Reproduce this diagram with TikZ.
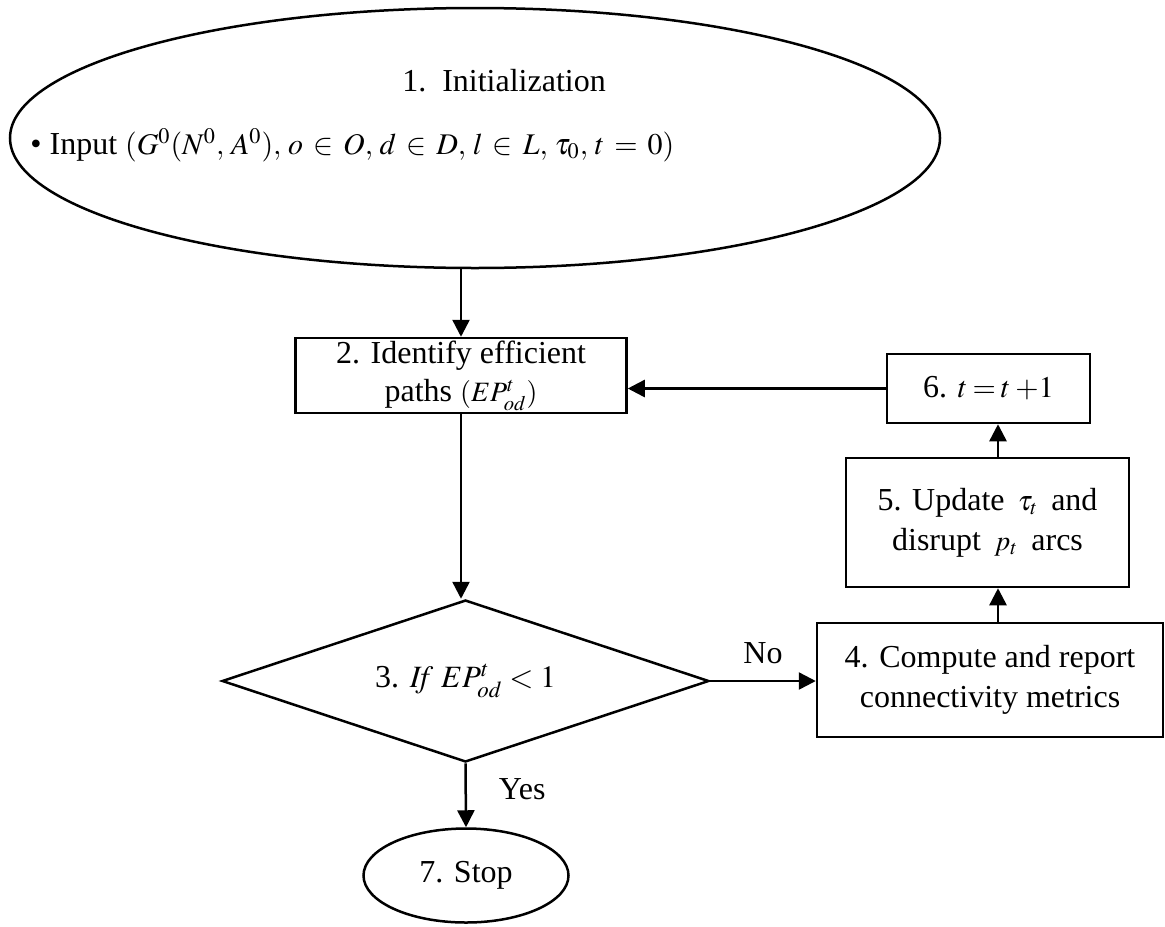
\documentclass[tikz,border=0pt]{standalone}
\usepackage{mathptmx}
\usepackage{fontspec}
\setmainfont{Liberation Serif}
\usetikzlibrary{shapes.geometric,arrows.meta,positioning}

\newcommand{\flowfont}{\fontsize{16}{20}\selectfont}
\newcommand{\eqfont}{\fontsize{14}{16}\selectfont}

\tikzset{
  flow/.style={line width=1.25pt, -{Triangle[length=8.5pt,width=8.5pt]}},
  stepbox/.style={draw, line width=1.25pt, rectangle, inner sep=0pt, align=center, font=\flowfont},
  term/.style={draw, line width=1.25pt, ellipse, inner sep=0pt, font=\flowfont},
  decide/.style={draw, line width=1.25pt, diamond, aspect=3, inner sep=0pt, font=\flowfont},
  lbl/.style={font=\flowfont, inner sep=0pt}
}

\begin{document}
\begin{tikzpicture}[x=0.5pt, y=-0.5pt]
  \useasboundingbox (0,0) rectangle (1165,926);

  %Define nodes
  \node[term, minimum width=465pt, minimum height=130pt] (init) at (475,138) {};
  \node[lbl] (inittitle) at (504,81) {1.\ \ Initialization};
  \node[lbl, anchor=west] (initinput) at (30,145)
    {• Input {\fontsize{15}{17}\selectfont\thickmuskip=6mu\thinmuskip=4mu$(G^{0}(N^{0},A^{0}),o\in O,d\in D,l\in L,\tau_{0},t=0)$}};

  \node[stepbox, minimum width=165.5pt, minimum height=37.5pt] (paths) at (461,375.5)
    {2. Identify efficient\\[-1pt]paths {\eqfont$(EP_{od}^{t})$}};

  \node[decide, minimum width=243.5pt, minimum height=81pt] (check) at (465.5,681)
    {3. {\fontsize{15.5}{18}\selectfont$\mathit{If}\ EP_{od}^{t}<1$}};

  \node[stepbox, minimum width=173pt, minimum height=57pt] (metrics) at (990,680)
    {4. Compute and report\\connectivity metrics};

  \node[stepbox, minimum width=141.5pt, minimum height=64.5pt] (update) at (987.5,522.5)
    {5. Update\ \,{\eqfont$\tau_{t}$}\ \,and\\disrupt\ \,{\eqfont$p_{t}$}\ \,arcs};

  \node[stepbox, minimum width=101.5pt, minimum height=34.5pt] (next) at (988.5,388.5)
    {6. {\fontsize{15}{18}\selectfont$t\mkern3mu{=}\mkern3mu t\mkern3mu{+}1$}};

  \node[term, minimum width=102.5pt, minimum height=47pt] (stop) at (466,875.5) {7. Stop};

  \coordinate (upline) at (998,0);

  % Connect the nodes
  \draw[flow] (init.south -| paths.north) -- (paths.north);
  \draw[flow] (paths.south) -- (paths.south |- check.north);
  \draw[flow] (check.east) -- node[lbl, above=8pt]{No} (check.east -| metrics.west);
  \draw[flow] (metrics.north -| upline) -- (update.south -| upline);
  \draw[flow] (update.north -| upline) -- (next.south -| upline);
  \draw[flow] (next.west) -- (next.west -| paths.east);
  \draw[flow] (check.south) -- node[lbl, right=16pt, pos=0.4]{Yes} (stop.north);

\end{tikzpicture}
\end{document}
